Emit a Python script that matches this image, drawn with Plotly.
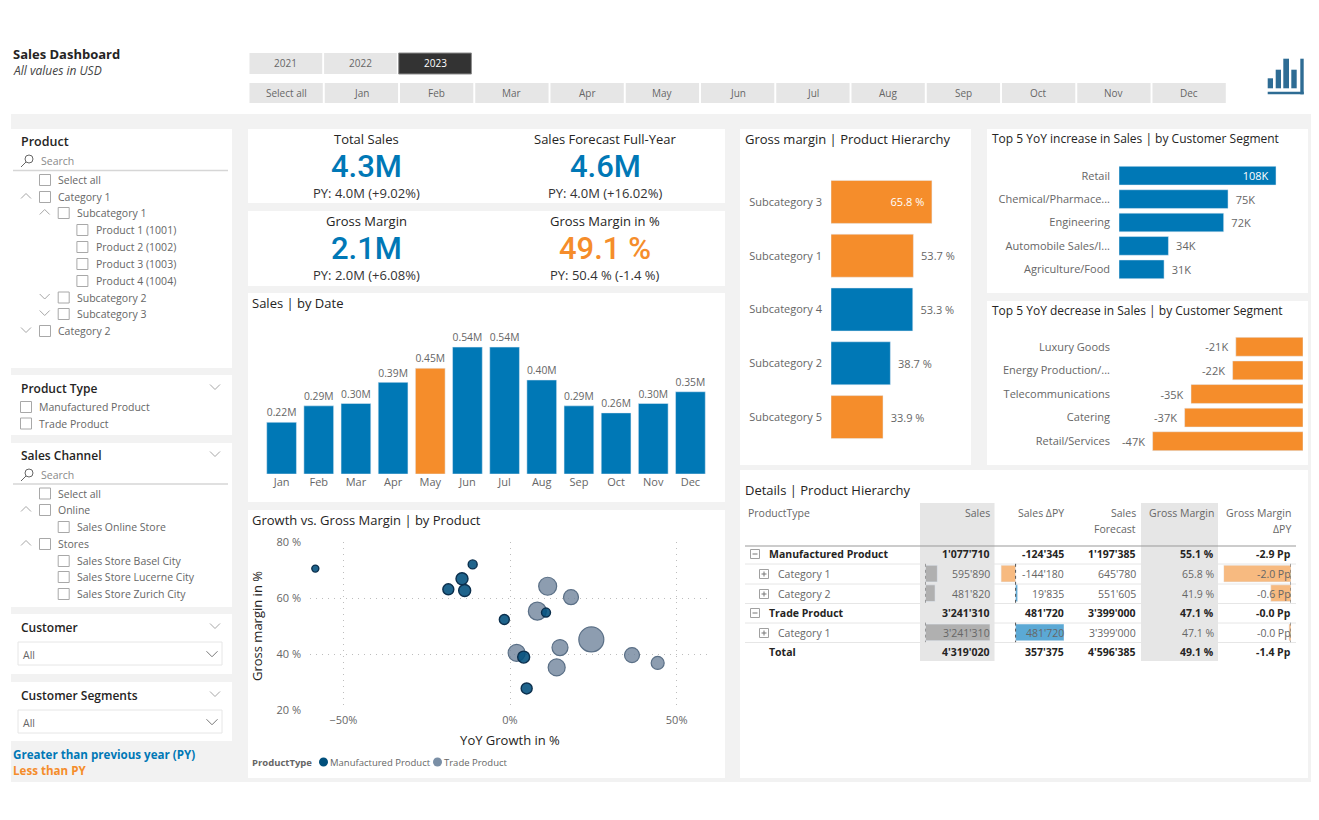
import plotly.graph_objects as go

W, H = 1319, 820
FONT = 'Open Sans'
BLUE = '#0078B6'
ORANGE = '#F58D2B'
DARK = '#252423'
GREY = '#666666'
PANEL = '#F2F2F2'
GAP = '\u00a0\u2009'

# ---- data ----
years = ['2021', '2022', '2023']
month_buttons = ['Select all', 'Jan', 'Feb', 'Mar', 'Apr', 'May', 'Jun', 'Jul', 'Aug', 'Sep', 'Oct', 'Nov', 'Dec']

months = ['Jan', 'Feb', 'Mar', 'Apr', 'May', 'Jun', 'Jul', 'Aug', 'Sep', 'Oct', 'Nov', 'Dec']
month_sales = [0.22, 0.29, 0.30, 0.39, 0.45, 0.54, 0.54, 0.40, 0.29, 0.26, 0.30, 0.35]
month_colors = [BLUE, BLUE, BLUE, BLUE, ORANGE, BLUE, BLUE, BLUE, BLUE, BLUE, BLUE, BLUE]

subcategories = ['Subcategory 3', 'Subcategory 1', 'Subcategory 4', 'Subcategory 2', 'Subcategory 5']
subcat_margin = [65.8, 53.7, 53.3, 38.7, 33.9]
subcat_colors = [ORANGE, ORANGE, BLUE, BLUE, ORANGE]
subcat_textpos = ['inside', 'outside', 'outside', 'outside', 'outside']

inc_segments = ['Retail', 'Chemical/Pharmace...', 'Engineering', 'Automobile Sales/I...', 'Agriculture/Food']
inc_values = [108, 75, 72, 34, 31]
inc_textpos = ['inside', 'outside', 'outside', 'outside', 'outside']

dec_segments = ['Luxury Goods', 'Energy Production/...', 'Telecommunications', 'Catering', 'Retail/Services']
dec_values = [-21, -22, -35, -37, -47]

mfg_growth = [-58.4, -11.2, -14.4, -18.5, -13.6, -1.7, 10.8, 4.1, 5.0]
mfg_margin = [70.5, 72.0, 66.9, 63.1, 62.7, 52.3, 54.8, 38.9, 27.7]
mfg_size = [7, 9, 12, 11, 12, 10, 9, 12, 11]

trade_growth = [11.3, 18.3, 8.2, 15.0, 24.4, 2.0, 14.0, 36.6, 44.3]
trade_margin = [64.2, 60.3, 55.3, 42.3, 45.2, 40.4, 35.2, 39.6, 36.8]
trade_size = [18, 15, 18, 16, 25, 17, 17, 15, 13]

table_rows = ['Manufactured Product', 'Category 1', 'Category 2', 'Trade Product', 'Category 1', 'Total']
col_sales = ["1'077'710", "595'890", "481'820", "3'241'310", "3'241'310", "4'319'020"]
col_delta = ["-124'345", "-144'180", "19'835", "481'720", "481'720", "357'375"]
col_forecast = ["1'197'385", "645'780", "551'605", "3'399'000", "3'399'000", "4'596'385"]
col_margin = ['55.1 %', '65.8 %', '41.9 %', '47.1 %', '47.1 %', '49.1 %']
col_gm_delta = ['-2.9 Pp', '-2.0 Pp', '-0.6 Pp', '-0.0 Pp', '-0.0 Pp', '-1.4 Pp']

bar_rows = [1, 2, 4]
bar_sales = [595890, 481820, 3241310]
bar_delta = [-144180, 19835, 481720]
bar_gm_delta = [-2.0, -0.6, -0.06]

fig = go.Figure()
shapes = []


def px(x):
    return x / W


def py(y):
    return 1 - y / H


def rect(x0, y0, x1, y1, fill='white', line=None, width=1):
    shapes.append(dict(type='rect', xref='paper', yref='paper', x0=px(x0), x1=px(x1), y0=py(y0), y1=py(y1),
                       fillcolor=fill, line=dict(color=line, width=width if line else 0), layer='below'))


def hline(x0, x1, y, color='#E3E3E3', width=1):
    shapes.append(dict(type='line', xref='paper', yref='paper', x0=px(x0), x1=px(x1), y0=py(y), y1=py(y),
                       line=dict(color=color, width=width), layer='below'))


def path(points, color='#A6A6A6', width=1):
    d = 'M ' + ' L '.join('{} {}'.format(px(a), py(b)) for a, b in points)
    shapes.append(dict(type='path', xref='paper', yref='paper', path=d, line=dict(color=color, width=width), layer='above'))


def dot(x, y, d, fill):
    shapes.append(dict(type='circle', xref='paper', yref='paper', x0=px(x - d / 2), x1=px(x + d / 2),
                       y0=py(y - d / 2), y1=py(y + d / 2), fillcolor=fill, line=dict(width=0), layer='above'))


def label(x, y, text, size=11, color=GREY, anchor='left', bold=False, italic=False, family=FONT, weight=None):
    if bold:
        text = '<b>{}</b>'.format(text)
    if italic:
        text = '<i>{}</i>'.format(text)
    font = dict(size=size, color=color, family=family)
    if weight:
        font['weight'] = weight
    fig.add_annotation(x=px(x), y=py(y), xref='paper', yref='paper', xanchor=anchor, yanchor='middle',
                       showarrow=False, text=text, font=font, borderpad=0, borderwidth=0)


def chevron(x, y, up=False, size=5, color='#A6A6A6'):
    d = -size / 2 if up else size / 2
    path([(x - size, y - d), (x, y + d), (x + size, y - d)], color=color)


def checkbox(x, y):
    rect(x - 5.5, y - 5.5, x + 5.5, y + 5.5, fill='white', line='#A8A8A8')


def search(x, y):
    shapes.append(dict(type='circle', xref='paper', yref='paper', x0=px(x - 2), x1=px(x + 6), y0=py(y - 6), y1=py(y + 2),
                       line=dict(color='#666666', width=1), layer='above'))
    path([(x - 1, y + 1), (x - 6, y + 6)], color='#666666')


# ---- page frame ----
rect(11, 114, 1311, 782, fill=PANEL)
for card in [(11, 129, 232, 368), (11, 375, 232, 435), (11, 443, 232, 607), (11, 614, 232, 674), (11, 682, 232, 741),
             (248, 129, 725, 203), (248, 211, 725, 286), (248, 293, 725, 502), (248, 510, 725, 778),
             (740, 129, 971, 465), (987, 129, 1308, 293), (987, 301, 1308, 465), (740, 470, 1308, 778)]:
    rect(*card)

# ---- header ----
label(13, 54, 'Sales Dashboard', size=13, color=DARK, bold=True)
label(13, 71, 'All values in USD', size=12, color='#444444', italic=True)

for i, year in enumerate(years):
    selected = year == '2023'
    x0 = 249.5 + i * 74.6
    rect(x0, 53, x0 + 72.7, 74, fill='#333333' if selected else '#E6E6E6', line='#8C8C8C' if selected else None)
    label(x0 + 36.3, 63.5, year, size=10, color='white' if selected else GREY, anchor='center')

for i, name in enumerate(month_buttons):
    x0 = 249.5 + i * 75.25
    rect(x0, 83, x0 + 73.3, 103, fill='#E6E6E6')
    label(x0 + 36.6, 93, name, size=10, color=GREY, anchor='center')

# logo
for x0, y0, x1 in [(1267.7, 78.3, 1273), (1275.7, 69.7, 1281), (1283.3, 58.7, 1289), (1291.3, 69.7, 1296.7)]:
    rect(x0, y0, x1, 88.3, fill='#2E6C94')
rect(1267.7, 91.7, 1303.7, 94.3, fill='#2E6C94')
rect(1300.3, 58.7, 1303.7, 94.3, fill='#2E6C94')

# ---- filters ----
label(21, 142, 'Product', size=12.5, color=DARK, weight=600)
search(27, 161)
label(41, 161, 'Search', size=10.5, color='#8A8A8A')
hline(13, 228, 170.5, color='#D6D6D6', width=1.5)
product_tree = [(180, 0, None, 'Select all'), (197, 0, True, 'Category 1'), (213, 1, True, 'Subcategory 1'),
                (230, 2, None, 'Product 1 (1001)'), (247, 2, None, 'Product 2 (1002)'),
                (264, 2, None, 'Product 3 (1003)'), (281, 2, None, 'Product 4 (1004)'),
                (297.5, 1, False, 'Subcategory 2'), (314, 1, False, 'Subcategory 3'), (331, 0, False, 'Category 2')]
channel_tree = [(493.5, 0, None, 'Select all'), (510, 0, True, 'Online'), (527, 1, None, 'Sales Online Store'),
                (544, 0, True, 'Stores'), (561, 1, None, 'Sales Store Basel City'),
                (577, 1, None, 'Sales Store Lucerne City'), (594, 1, None, 'Sales Store Zurich City')]
for y, level, open_state, text in product_tree + channel_tree:
    checkbox(45 + level * 18.7, y)
    label(58 + level * 18.9, y, text, size=10.5)
    if open_state is not None:
        chevron(26 + level * 18.7, y - 1, up=open_state)

label(21, 388, 'Product Type', size=12, color=DARK, weight=600)
chevron(215, 387)
for y, text in [(407, 'Manufactured Product'), (423.5, 'Trade Product')]:
    checkbox(26, y)
    label(39, y, text, size=10.5)

label(21, 455.5, 'Sales Channel', size=12, color=DARK, weight=600)
chevron(215, 454)
search(27, 475)
label(41, 475, 'Search', size=10.5, color='#8A8A8A')
hline(13, 228, 484, color='#D6D6D6', width=1.5)

for title, ty, box_y0 in [('Customer', 627, 642), ('Customer Segments', 695, 710)]:
    label(21, ty, title, size=12, color=DARK, weight=600)
    chevron(215, ty - 1)
    rect(18, box_y0, 222, box_y0 + 23, fill='white', line='#E6E6E6')
    label(23, box_y0 + 13, 'All', size=10.5)
    chevron(212, box_y0 + 12, size=5.5, color='#777777')

label(13, 754, 'Greater than previous year (PY)', size=11.6, color=BLUE, bold=True)
label(13, 770, 'Less than PY', size=11.6, color=ORANGE, bold=True)

# ---- KPI cards ----
for x, ty, title, value, sub, color in [
    (367, 139, 'Total Sales', '4.3M', 'PY: 4.0M (+9.02%)', BLUE),
    (605, 139, 'Sales Forecast Full-Year', '4.6M', 'PY: 4.0M (+16.02%)', BLUE),
    (367, 221, 'Gross Margin', '2.1M', 'PY: 2.0M (+6.08%)', BLUE),
    (605, 221, 'Gross Margin in %', '49.1 %', 'PY: 50.4 % (-1.4 %)', ORANGE),
]:
    label(x, ty, title, size=13, color=DARK, anchor='center')
    label(x, ty + 27.5, value, size=31, color=color, anchor='center', family='Roboto', weight=500)
    label(x, ty + 54, sub, size=13, color='#333333', anchor='center')

# ---- card titles ----
label(252, 303, 'Sales | by Date', size=13, color=DARK)
label(252, 520, 'Growth vs. Gross Margin | by Product', size=13, color=DARK)
label(745, 139, 'Gross margin | Product Hierarchy', size=13, color=DARK)
label(992, 138, 'Top 5 YoY increase in Sales | by Customer Segment', size=12, color=DARK)
label(992, 310, 'Top 5 YoY decrease in Sales | by Customer Segment', size=12, color=DARK)
label(745, 490, 'Details | Product Hierarchy', size=13, color=DARK)

# ---- sales by date ----
fig.add_trace(go.Bar(x=months, y=month_sales, marker=dict(color=month_colors),
                     text=['{:.2f}M'.format(v) for v in month_sales], textposition='outside', cliponaxis=False,
                     textfont=dict(size=11, color=GREY, family=FONT), xaxis='x', yaxis='y', showlegend=False))

# ---- gross margin by subcategory ----
fig.add_trace(go.Bar(x=subcat_margin, y=subcategories, orientation='h', marker=dict(color=subcat_colors),
                     text=[GAP + '{:.1f} %'.format(v) + GAP for v in subcat_margin], textposition=subcat_textpos,
                     insidetextanchor='end', textangle=0, cliponaxis=False, constraintext='none',
                     insidetextfont=dict(size=11, color='white', family=FONT),
                     outsidetextfont=dict(size=11, color=GREY, family=FONT),
                     xaxis='x2', yaxis='y2', showlegend=False))

# ---- top 5 ----
fig.add_trace(go.Bar(x=inc_values, y=inc_segments, orientation='h', marker=dict(color=BLUE),
                     text=[GAP + '{}K'.format(v) + GAP for v in inc_values], textposition=inc_textpos,
                     insidetextanchor='end', textangle=0, cliponaxis=False, constraintext='none',
                     insidetextfont=dict(size=11, color='white', family=FONT),
                     outsidetextfont=dict(size=11, color=GREY, family=FONT),
                     xaxis='x3', yaxis='y3', showlegend=False))
fig.add_trace(go.Bar(x=dec_values, y=dec_segments, orientation='h', marker=dict(color=ORANGE),
                     text=['{}K'.format(v) + GAP for v in dec_values], textposition='outside', textangle=0,
                     cliponaxis=False, constraintext='none',
                     textfont=dict(size=11, color=GREY, family=FONT),
                     xaxis='x4', yaxis='y4', showlegend=False))

# ---- bubble chart ----
fig.add_trace(go.Scatter(x=trade_growth, y=trade_margin, mode='markers', name='Trade Product',
                         marker=dict(size=trade_size, color='rgba(112,133,156,0.8)', opacity=1,
                                     line=dict(color='#5A6F86', width=1.2)),
                         xaxis='x8', yaxis='y8', showlegend=False))
fig.add_trace(go.Scatter(x=mfg_growth, y=mfg_margin, mode='markers', name='Manufactured Product',
                         marker=dict(size=mfg_size, color='rgba(0,79,124,0.88)', opacity=1,
                                     line=dict(color='#0B2F4D', width=1.4)),
                         xaxis='x8', yaxis='y8', showlegend=False))

label(252, 762, 'ProductType', size=9.5, bold=True)
dot(323.5, 762, 9, '#004F7C')
label(330, 762, 'Manufactured Product', size=9.5)
dot(437.5, 762, 9, '#7A8FA6')
label(444, 762, 'Trade Product', size=9.5)

# ---- details table ----
for x0, x1 in [(920, 994.5), (1141, 1218)]:
    rect(x0, 503, x1, 661, fill='#E6E6E6')
label(748, 513, 'ProductType', size=10.5)
for x, y, text in [(990, 513, 'Sales'), (1064, 513, 'Sales ΔPY'), (1136, 513, 'Sales'), (1136, 529, 'Forecast'),
                   (1214, 513, 'Gross Margin'), (1291, 513, 'Gross Margin'), (1291, 529, 'ΔPY')]:
    label(x, y, text, size=10.5, anchor='right')
hline(745, 1296, 546, color='#999999', width=1)
for y in [564, 584, 603.5, 623, 642.5]:
    hline(745, 1296, y, color='#E6E6E6', width=1)

row_y = [554, 574, 594, 613, 633, 652]
for r, name in enumerate(table_rows):
    top = name in ('Manufactured Product', 'Trade Product', 'Total')
    y = row_y[r]
    if top:
        label(769, y, name, size=10.5, color=DARK, bold=True)
    else:
        label(778, y, name, size=10.5)
    if name != 'Total':
        bx = 755 if top else 764
        rect(bx - 4.5, y - 4.5, bx + 4.5, y + 4.5, fill='white', line='#A0A0A0')
        path([(bx - 2.5, y), (bx + 2.5, y)], color='#777777')
        if not top:
            path([(bx, y - 2.5), (bx, y + 2.5)], color='#777777')
    for x, col in [(990, col_sales), (1064, col_delta), (1136, col_forecast), (1214, col_margin), (1291, col_gm_delta)]:
        label(x, y, col[r], size=10.5, color=DARK if top else GREY, anchor='right', bold=top)

fig.add_trace(go.Bar(x=bar_sales, y=bar_rows, orientation='h', width=0.85, marker=dict(color='#B0B0B0'),
                     xaxis='x5', yaxis='y5', showlegend=False))
fig.add_trace(go.Bar(x=bar_delta, y=bar_rows, orientation='h', width=0.85,
                     marker=dict(color=['#F7BA80' if v < 0 else '#5BA9D5' for v in bar_delta]),
                     xaxis='x6', yaxis='y6', showlegend=False))
fig.add_trace(go.Bar(x=bar_gm_delta, y=bar_rows, orientation='h', width=0.85, marker=dict(color='#F7BA80'),
                     xaxis='x7', yaxis='y7', showlegend=False))

for xr, yr in [('x5', 'y5'), ('x6', 'y6'), ('x7', 'y7')]:
    for a, b in [(0.5, 2.5), (3.5, 4.5)]:
        shapes.append(dict(type='line', xref=xr, yref=yr, x0=0, x1=0, y0=a, y1=b,
                           line=dict(color='#555555', width=1, dash='dot')))

tick = dict(size=11, color=GREY, family=FONT)


def hidden(domain, rng, anchor):
    return dict(domain=[px(domain[0]), px(domain[1])], range=rng, visible=False, anchor=anchor, fixedrange=True)


def vdomain(top, bottom):
    return [py(bottom), py(top)]


fig.update_layout(
    width=W, height=H, margin=dict(l=0, r=0, t=0, b=0, autoexpand=False), paper_bgcolor='white',
    plot_bgcolor='rgba(0,0,0,0)', font=dict(family=FONT, color=GREY), shapes=shapes, bargap=0.2, hovermode=False,
    showlegend=False,
    # sales by date
    xaxis=dict(domain=[px(263), px(709)], anchor='y', tickfont=tick, showgrid=False, showline=False, ticks='',
               automargin=False),
    yaxis=dict(domain=vdomain(330, 474), range=[0, 0.6128], visible=False, anchor='x', automargin=False),
    # subcategory bars
    xaxis2=dict(domain=[px(831), px(966)], range=[0, 88], visible=False, anchor='y2'),
    yaxis2=dict(domain=vdomain(175, 444), autorange='reversed', anchor='x2', tickfont=tick, showgrid=False,
                ticks='', ticklabelstandoff=8, automargin=False),
    # top 5 increase
    xaxis3=dict(domain=[px(1119), px(1300)], range=[0, 124.5], visible=False, anchor='y3'),
    yaxis3=dict(domain=vdomain(164, 281), autorange='reversed', anchor='x3', tickfont=tick, showgrid=False,
                ticks='', ticklabelstandoff=8, automargin=False),
    # top 5 decrease
    xaxis4=dict(domain=[px(1119), px(1303)], range=[-57.5, 0], visible=False, anchor='y4'),
    yaxis4=dict(domain=vdomain(335, 453), autorange='reversed', anchor='x4', tickfont=tick, showgrid=False,
                ticks='', ticklabelstandoff=8, automargin=False),
    # table data bars
    xaxis5=hidden((925.5, 990), [0, 3241310], 'y5'),
    yaxis5=dict(domain=vdomain(544.2, 661.8), range=[5.5, -0.5], visible=False, anchor='x5'),
    xaxis6=hidden((999, 1064), [-165000, 481720], 'y6'),
    yaxis6=dict(domain=vdomain(544.2, 661.8), range=[5.5, -0.5], visible=False, anchor='x6'),
    xaxis7=hidden((1223.6, 1291), [-2.0, 0], 'y7'),
    yaxis7=dict(domain=vdomain(544.2, 661.8), range=[5.5, -0.5], visible=False, anchor='x7'),
    # bubble chart
    xaxis8=dict(domain=[px(310), px(710)], range=[-60, 60], dtick=50, tick0=0, ticksuffix='%', anchor='y8',
                tickfont=tick, showgrid=True, griddash='1px,5px', gridcolor='#BDBDBD', zeroline=False, automargin=False,
                ticks='', ticklabelstandoff=2,
                title=dict(text='YoY Growth in %', font=dict(size=13, color=DARK, family=FONT), standoff=9)),
    yaxis8=dict(domain=vdomain(542, 710), range=[20, 80], dtick=20, ticksuffix=' %', anchor='x8',
                tickfont=tick, showgrid=True, griddash='1px,5px', gridcolor='#BDBDBD', zeroline=False, automargin=False,
                ticks='', ticklabelstandoff=8,
                title=dict(text='Gross margin in %', font=dict(size=13, color=DARK, family=FONT), standoff=10)),
)

fig.write_html('out.html', config=dict(displayModeBar=False),
               post_script="document.body.style.margin='0';document.body.style.overflow='hidden';")
